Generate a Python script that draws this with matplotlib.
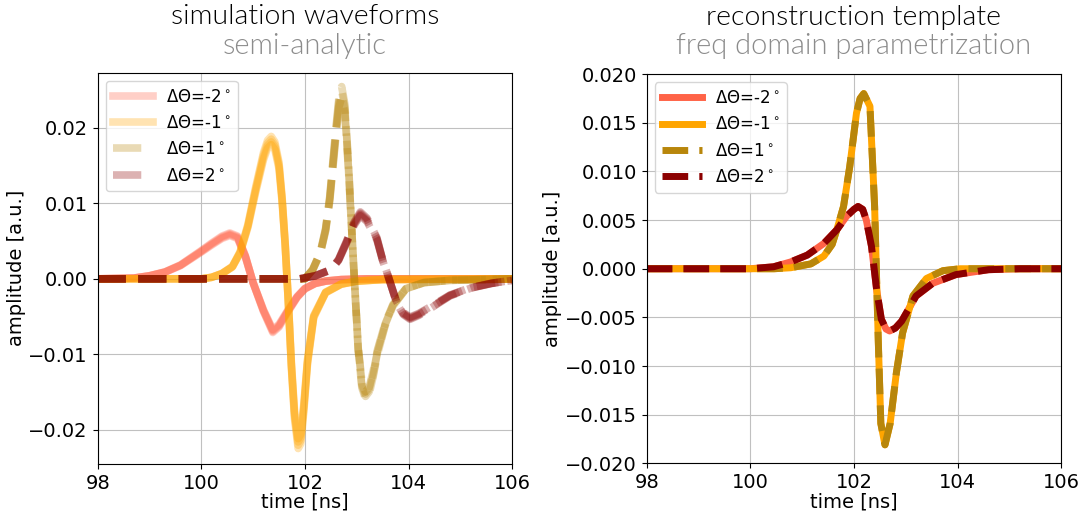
import numpy as np
import matplotlib
matplotlib.use('Agg')
import matplotlib.pyplot as plt

# simulation waveforms (semi-analytic), one array pair per opening angle
sim_t_m2 = [98, 98.7, 99.0, 99.3, 99.6, 99.97, 100.2, 100.4, 100.55, 100.7, 100.85, 101.0, 101.2, 101.38,
            101.5, 101.65, 101.85, 102.0, 102.2, 102.4, 102.7, 103.2, 104, 106]
sim_v_m2 = [0, 0.0001, 0.0004, 0.0009, 0.0018, 0.0035, 0.0046, 0.0055, 0.0059, 0.0055, 0.0030, -0.0005, -0.0042,
            -0.0069, -0.0062, -0.0045, -0.0024, -0.0013, -0.0006, -0.0003, -0.0001, 0, 0, 0]

sim_t_m1 = [98, 100.0, 100.2, 100.4, 100.6, 100.75, 100.9, 101.05, 101.2, 101.28, 101.35, 101.42, 101.5, 101.56,
            101.62, 101.68, 101.74, 101.8, 101.87, 101.92, 101.98, 102.05, 102.17, 102.4, 102.7, 103.0, 103.5, 106]
sim_v_m1 = [0, 0, 0.0002, 0.0007, 0.0016, 0.0035, 0.0070, 0.0118, 0.0162, 0.0178, 0.0183, 0.0176, 0.0150, 0.0105,
            0.0045, -0.0030, -0.0115, -0.0180, -0.0218, -0.0212, -0.0170, -0.0110, -0.0050, -0.0018, -0.0007,
            -0.0003, -0.0001, 0]

sim_t_p1 = [98, 102.0, 102.15, 102.3, 102.4, 102.48, 102.6, 102.66, 102.71, 102.77, 102.84, 102.94, 103.03, 103.1,
            103.17, 103.24, 103.32, 103.4, 103.55, 103.7, 103.95, 104.3, 104.8, 105.5, 106]
sim_v_p1 = [0, 0, 0.0012, 0.0035, 0.0065, 0.0106, 0.0195, 0.0235, 0.0247, 0.0225, 0.0150, 0.0018, -0.0093, -0.0140,
            -0.0154, -0.0148, -0.0125, -0.0097, -0.0060, -0.0035, -0.0013, -0.0005, -0.0002, -0.0001, 0]

sim_t_p2 = [98, 101.9, 102.2, 102.5, 102.65, 102.8, 102.95, 103.07, 103.2, 103.39, 103.5, 103.6, 103.77, 103.9,
            104.03, 104.2, 104.4, 104.8, 105.2, 105.6, 106]
sim_v_p2 = [0, 0, 0.0004, 0.0012, 0.0025, 0.0048, 0.0073, 0.0086, 0.0078, 0.0053, 0.0025, 0.0005, -0.0031, -0.0046,
            -0.0052, -0.0047, -0.0039, -0.0022, -0.0012, -0.0006, -0.0002]

# small spread between the overlaid simulated traces
trace_scale = [0.97, 0.99, 1.01, 1.03]

# reconstruction templates (freq domain parametrization)
tmpl_t_1 = [98, 100.46, 100.78, 101.17, 101.42, 101.58, 101.67, 101.8, 101.92, 102.05, 102.12, 102.19, 102.31,
            102.4, 102.47, 102.52, 102.6, 102.7, 102.82, 102.94, 103.14, 103.4, 103.72, 104.05, 106]
tmpl_v_1 = [0, 0, 0.0001, 0.0005, 0.0013, 0.0025, 0.0040, 0.0064, 0.0105, 0.0160, 0.0175, 0.0180, 0.0167,
            0.0064, -0.0073, -0.0159, -0.0181, -0.0159, -0.0107, -0.0066, -0.0028, -0.0010, -0.0002, 0, 0]

tmpl_t_2 = [98, 100.0, 100.45, 100.78, 101.1, 101.42, 101.67, 101.86, 102.0, 102.08, 102.17, 102.24, 102.34,
            102.44, 102.53, 102.62, 102.69, 102.8, 102.92, 103.05, 103.2, 103.52, 103.97, 104.6, 105.2, 106]
tmpl_v_2 = [0, 0, 0.0002, 0.0007, 0.0014, 0.0026, 0.0040, 0.0054, 0.0061, 0.0064, 0.0061, 0.0050, 0.0023,
            -0.0022, -0.0052, -0.0062, -0.0064, -0.0061, -0.0054, -0.0042, -0.0028, -0.0015, -0.0006, -0.0001, 0, 0]

labels = [r'ΔΘ=-2$^\circ$', r'ΔΘ=-1$^\circ$', r'ΔΘ=1$^\circ$', r'ΔΘ=2$^\circ$']
colors = ['tomato', 'orange', 'darkgoldenrod', 'darkred']
styles = ['-', '-', '--', '--']

fig = plt.figure(figsize=(10.85, 5.21), dpi=100)
ax1 = fig.add_axes([0.090, 0.1094, 0.382, 0.7514])
ax2 = fig.add_axes([0.596, 0.1107, 0.382, 0.747])

sim = [(sim_t_m2, sim_v_m2), (sim_t_m1, sim_v_m1), (sim_t_p1, sim_v_p1), (sim_t_p2, sim_v_p2)]
for (t, v), lab, c, ls in zip(sim, labels, colors, styles):
    for k, s in enumerate(trace_scale):
        ax1.plot(t, np.array(v) * s, color=c, ls=ls, lw=5.5, alpha=0.3,
                 label=lab if k == 0 else None)

tmpl = [(tmpl_t_2, tmpl_v_2), (tmpl_t_1, tmpl_v_1), (tmpl_t_1, tmpl_v_1), (tmpl_t_2, tmpl_v_2)]
for (t, v), lab, c, ls in zip(tmpl, labels, colors, styles):
    ax2.plot(t, v, color=c, ls=ls, lw=5, label=lab)

ax1.set_ylim(-0.0245, 0.0273)
ax2.set_ylim(-0.020, 0.020)
ax2.set_yticks(np.arange(-0.020, 0.0201, 0.005))

titles = [('simulation waveforms', 'semi-analytic'),
          ('reconstruction template', 'freq domain parametrization')]
for ax, (ttl, sub), ys in zip([ax1, ax2], titles, [(1.142, 1.068), (1.146, 1.072)]):
    ax.set_xlim(98, 106)
    ax.set_xticks([98, 100, 102, 104, 106])
    ax.grid(True, color='#c0c0c0')
    ax.tick_params(labelsize=14)
    ax.set_xlabel('time [ns]', fontsize=14, labelpad=0)
    ax.set_ylabel('amplitude [a.u.]', fontsize=14, labelpad=2)
    ax.legend(loc='upper left', fontsize=12, handlelength=2.4, labelspacing=0.5)
    ax.text(0.5, ys[0], ttl, transform=ax.transAxes, ha='center', va='center',
            fontsize=20.5, family='Lato', fontweight=300, color='black')
    ax.text(0.5, ys[1], sub, transform=ax.transAxes, ha='center', va='center',
            fontsize=21, family='Lato', fontweight=300, color='#8c8c8c')

fig.savefig('out.png', dpi=100)
